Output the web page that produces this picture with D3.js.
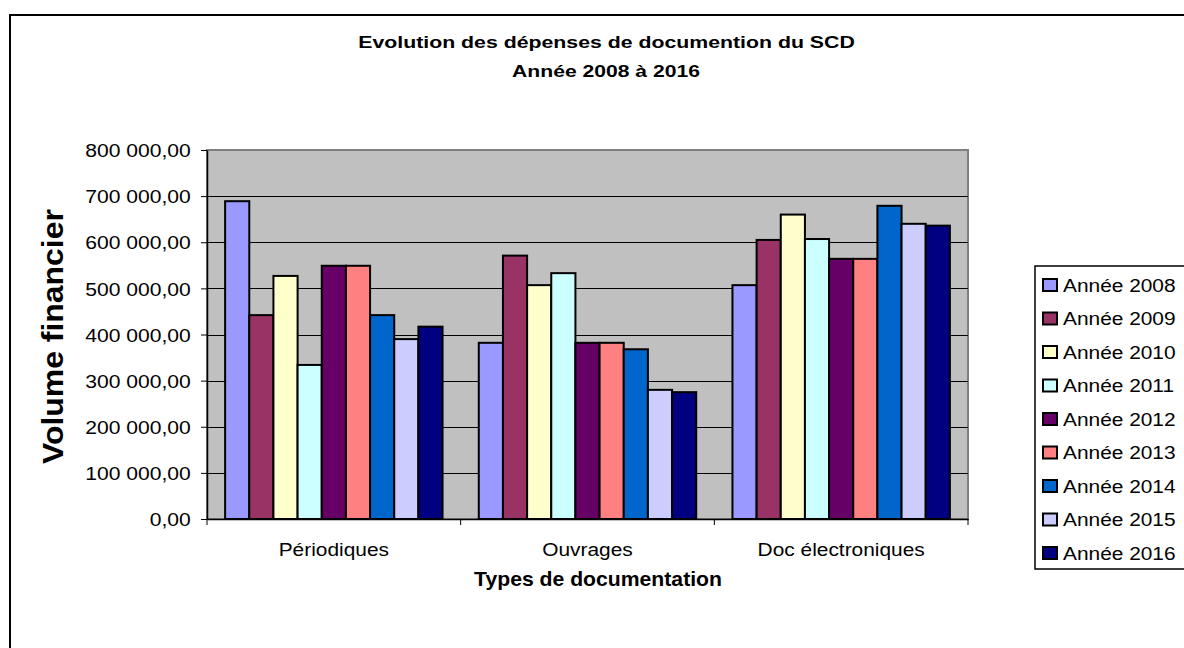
<!DOCTYPE html>
<html>
<head>
<meta charset="utf-8">
<script src="https://cdn.jsdelivr.net/npm/d3@7"></script>
<style>
  html, body { margin: 0; padding: 0; background: #fff; }
  svg { display: block; font-family: "Liberation Sans", Arial, sans-serif; }
</style>
</head>
<body>
<svg id="chart" width="1184" height="648"></svg>
<script>
// ---- Data ----
const categories = ["Périodiques", "Ouvrages", "Doc électroniques"];
const seriesNames = ["Année 2008", "Année 2009", "Année 2010", "Année 2011", "Année 2012",
                     "Année 2013", "Année 2014", "Année 2015", "Année 2016"];
const values2008 = [689000, 382000, 507000];
const values2009 = [442000, 571000, 605000];
const values2010 = [527000, 507000, 660000];
const values2011 = [334000, 533000, 607000];
const values2012 = [549000, 382000, 564000];
const values2013 = [549000, 382000, 564000];
const values2014 = [442000, 368000, 679000];
const values2015 = [390000, 280000, 640000];
const values2016 = [417000, 275000, 636000];
const seriesValues = [values2008, values2009, values2010, values2011, values2012,
                      values2013, values2014, values2015, values2016];
const seriesColors = ["#9999FF", "#993366", "#FFFFCC", "#CCFFFF", "#660066",
                      "#FF8080", "#0066CC", "#CCCCFF", "#000080"];
const yTicks = [0, 100000, 200000, 300000, 400000, 500000, 600000, 700000, 800000];
const titleLines = ["Evolution des dépenses de documention du SCD", "Année 2008 à 2016"];
const yTitle = "Volume financier";
const xTitle = "Types de documentation";

// ---- Layout ----
const svg = d3.select("#chart");
const plot = { left: 207, right: 968, top: 150, bottom: 519 };
const FONT = 18.5;

// stretch text horizontally so its rendered width equals target width
function fitText(sel, x, y, w) {
  sel.attr("x", 0).attr("y", 0);
  const len = sel.node().getComputedTextLength();
  const sx = w / len;
  sel.attr("transform", `translate(${x},${y}) scale(${sx},1)`);
}

// outer chart border
svg.append("rect").attr("x", 10).attr("y", 15).attr("width", 1190).attr("height", 660)
  .attr("fill", "#fff").attr("stroke", "#000").attr("stroke-width", 2);

// scales
const x0 = d3.scaleBand().domain(categories).range([plot.left, plot.right]).paddingInner(0).paddingOuter(0);
const x1 = d3.scaleBand().domain(seriesNames).range([0, x0.bandwidth()]).paddingInner(0).paddingOuter(0.75);
const y = d3.scaleLinear().domain([0, 800000]).range([plot.bottom, plot.top]);

// plot area background
svg.append("rect").attr("x", plot.left).attr("y", plot.top)
  .attr("width", plot.right - plot.left).attr("height", plot.bottom - plot.top)
  .attr("fill", "#C0C0C0").attr("stroke", "#808080").attr("stroke-width", 2);

// gridlines
svg.append("g").selectAll("line").data(yTicks.filter(d => d > 0 && d < 800000)).join("line")
  .attr("x1", plot.left).attr("x2", plot.right)
  .attr("y1", d => Math.round(y(d)) + 0.5).attr("y2", d => Math.round(y(d)) + 0.5)
  .attr("stroke", "#000").attr("stroke-width", 1);

// bars
const rows = [];
seriesNames.forEach((s, si) => {
  categories.forEach((c, ci) => rows.push({ s, si, c, v: seriesValues[si][ci] }));
});
svg.append("g").selectAll("rect").data(rows).join("rect")
  .attr("x", d => x0(d.c) + x1(d.s))
  .attr("y", d => y(d.v))
  .attr("width", x1.bandwidth())
  .attr("height", d => y(0) - y(d.v))
  .attr("fill", d => seriesColors[d.si])
  .attr("stroke", "#000").attr("stroke-width", 2);

// y axis
const fr = d3.formatLocale({ decimal: ",", thousands: " ", grouping: [3], currency: ["", " €"] });
const fmt = fr.format(",.2f");
const Y_SX = 1.14;
const yAxis = svg.append("g").attr("transform", `translate(${plot.left},0)`)
  .call(d3.axisLeft(y).tickValues(yTicks).tickFormat(fmt).tickSize(6).tickPadding(10).tickSizeOuter(0));
yAxis.select(".domain").attr("stroke", "#000").attr("stroke-width", 1.5);
yAxis.selectAll(".tick line").attr("stroke", "#000").attr("stroke-width", 1);
yAxis.selectAll("text").attr("font-size", FONT).attr("fill", "#000").attr("dy", "0.36em")
  .attr("font-family", "Liberation Sans, Arial, sans-serif")
  .attr("x", -16.3 / Y_SX).attr("transform", `scale(${Y_SX},1)`);

// x axis
const X_SX = 1.13;
const xAxis = svg.append("g").attr("transform", `translate(0,${plot.bottom})`)
  .call(d3.axisBottom(x0).tickSize(0).tickPadding(0));
xAxis.select(".domain").attr("stroke", "#000").attr("stroke-width", 1.5);
xAxis.selectAll(".tick line").remove();
xAxis.selectAll("text").attr("font-size", FONT).attr("fill", "#000")
  .attr("y", 37).attr("dy", 0)
  .attr("font-family", "Liberation Sans, Arial, sans-serif")
  .attr("transform", `scale(${X_SX},1)`);
// category boundary ticks
const bounds = categories.map(c => x0(c)).concat([plot.right]);
xAxis.append("g").selectAll("line").data(bounds).join("line")
  .attr("x1", d => d).attr("x2", d => d).attr("y1", 0).attr("y2", 6)
  .attr("stroke", "#000").attr("stroke-width", 1);

// titles
const t1 = svg.append("text").attr("text-anchor", "middle")
  .attr("font-size", 17).attr("font-weight", "bold").text(titleLines[0]);
fitText(t1, 606.5, 48, 497);
const t2 = svg.append("text").attr("text-anchor", "middle")
  .attr("font-size", 17).attr("font-weight", "bold").text(titleLines[1]);
fitText(t2, 606, 77, 188);

const yt = svg.append("text").attr("text-anchor", "middle")
  .attr("font-size", 30).attr("font-weight", "bold").text(yTitle);
yt.attr("x", 0).attr("y", 0);
const ytLen = yt.node().getComputedTextLength();
yt.attr("transform", `translate(62.5,336.5) rotate(-90) scale(${255 / ytLen},1)`);

const xt = svg.append("text").attr("text-anchor", "middle")
  .attr("font-size", 20).attr("font-weight", "bold").text(xTitle);
fitText(xt, 598, 586, 248);

// legend
const L_SX = 1.16;
const legend = svg.append("g");
legend.append("rect").attr("x", 1035).attr("y", 266).attr("width", 200).attr("height", 303)
  .attr("fill", "#fff").attr("stroke", "#000").attr("stroke-width", 1.5);
const items = legend.selectAll("g.item").data(seriesNames).join("g")
  .attr("transform", (d, i) => `translate(0,${285 + i * 33.5})`);
items.append("rect").attr("x", 1043).attr("y", -6).attr("width", 14).attr("height", 12)
  .attr("fill", (d, i) => seriesColors[i]).attr("stroke", "#000").attr("stroke-width", 2);
items.append("text").attr("font-size", 18).attr("fill", "#000")
  .attr("transform", `translate(1063,6.5) scale(${L_SX},1)`).text(d => d);
</script>
</body>
</html>
